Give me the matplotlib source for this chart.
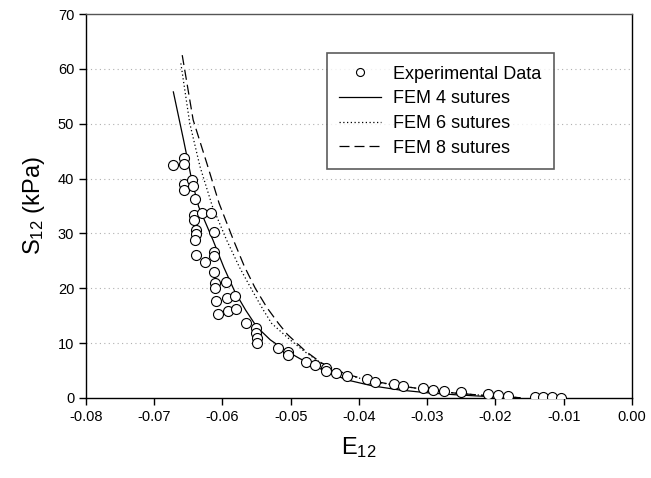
import matplotlib
matplotlib.use("Agg")
import matplotlib.pyplot as plt

plt.rcParams['font.family'] = ['Liberation Sans', 'DejaVu Sans']
plt.rcParams['mathtext.default'] = 'regular'

# experimental data (E12, S12 in kPa)
exp_e = [-0.0673, -0.0657, -0.0657, -0.0656, -0.0656, -0.0644, -0.0643, -0.0641,
         -0.0642, -0.0642, -0.0630, -0.0617, -0.0639, -0.0639, -0.0640, -0.0613,
         -0.0639, -0.0625, -0.0612, -0.0612, -0.0612, -0.0611, -0.0611, -0.0595,
         -0.0610, -0.0594, -0.0582, -0.0606, -0.0592, -0.0580, -0.0565, -0.0551,
         -0.0551, -0.0550, -0.0549, -0.0519, -0.0504, -0.0504, -0.0478, -0.0464,
         -0.0448, -0.0448, -0.0433, -0.0418, -0.0389, -0.0376, -0.0348, -0.0335,
         -0.0306, -0.0291, -0.0276, -0.0251, -0.0211, -0.0196, -0.0182, -0.0142,
         -0.0130, -0.0117, -0.0104]
exp_s = [42.5, 43.7, 42.7, 39.0, 37.9, 39.7, 38.7, 36.2,
         33.4, 32.4, 33.7, 33.8, 30.6, 29.9, 28.8, 30.2,
         26.1, 24.7, 26.7, 25.8, 23.0, 21.0, 20.1, 21.2,
         17.7, 18.2, 18.6, 15.4, 15.9, 16.2, 13.7, 12.7,
         11.8, 10.9, 10.1, 9.2, 8.4, 7.8, 6.6, 6.1,
         5.4, 4.9, 4.5, 4.0, 3.4, 2.9, 2.5, 2.1,
         1.8, 1.5, 1.3, 1.0, 0.7, 0.5, 0.4, 0.1,
         0.1, 0.1, 0.0]

# FEM curves
fem4_e = [-0.0672, -0.0657, -0.0645, -0.0635, -0.0614, -0.0598, -0.0582, -0.0566,
          -0.0550, -0.0530, -0.0508, -0.0487, -0.0460, -0.0418, -0.0380, -0.0340,
          -0.0300, -0.0260, -0.0220, -0.0190, -0.0164]
fem4_s = [55.8, 47.0, 39.7, 34.9, 28.8, 23.8, 19.4, 16.0,
          13.0, 10.6, 8.7, 7.2, 5.5, 3.3, 2.2, 1.45,
          0.95, 0.6, 0.32, 0.18, 0.05]

fem6_e = [-0.0661, -0.0648, -0.0633, -0.0615, -0.0594, -0.0575, -0.0557, -0.0540,
          -0.0528, -0.0510, -0.0499, -0.0479, -0.0455, -0.0418, -0.0380, -0.0345,
          -0.0300, -0.0260, -0.0220, -0.0190, -0.0164]
fem6_s = [61.0, 50.1, 42.2, 35.0, 28.8, 23.8, 19.7, 16.0,
          13.6, 11.6, 10.4, 8.4, 6.3, 4.2, 3.0, 2.3,
          1.5, 0.9, 0.5, 0.25, 0.05]

fem8_e = [-0.0659, -0.0643, -0.0623, -0.0605, -0.0584, -0.0568, -0.0552, -0.0535,
          -0.0518, -0.0505, -0.0479, -0.0455, -0.0418, -0.0380, -0.0345,
          -0.0300, -0.0260, -0.0220, -0.0190, -0.0164]
fem8_s = [62.5, 50.7, 42.8, 35.5, 28.8, 24.0, 20.0, 16.5,
          13.6, 11.6, 8.6, 6.4, 4.3, 3.1, 2.3,
          1.5, 0.9, 0.5, 0.25, 0.05]

x_ticks = [-0.08, -0.07, -0.06, -0.05, -0.04, -0.03, -0.02, -0.01, 0.00]
y_ticks = [0, 10, 20, 30, 40, 50, 60, 70]

fig = plt.figure(figsize=(6.51, 4.78), dpi=100)
ax = fig.add_axes([0.1321, 0.1674, 0.8387, 0.8033])

# horizontal dotted grid
for yv in y_ticks[1:-1]:
    ax.axhline(yv, color='#b0b0b0', lw=0.8, ls=(0, (1, 3)), zorder=0)

ax.plot(exp_e, exp_s, 'o', mfc='white', mec='black', ms=7.2, mew=0.8,
        label='Experimental Data', zorder=3)
ax.plot(fem4_e, fem4_s, '-', color='black', lw=0.9, label='FEM 4 sutures', zorder=2)
ax.plot(fem6_e, fem6_s, color='black', lw=0.9, ls=(0, (1, 2)), label='FEM 6 sutures', zorder=2)
ax.plot(fem8_e, fem8_s, color='black', lw=0.9, ls=(0, (8, 4)), label='FEM 8 sutures', zorder=2)

ax.set_xlim(-0.08, 0.0)
ax.set_ylim(0, 70)
ax.set_xticks(x_ticks)
ax.set_xticklabels(['%.2f' % v for v in x_ticks])
ax.set_yticks(y_ticks)
ax.tick_params(direction='out', length=5, width=1, labelsize=10.5, colors='black',
               top=False, right=False)
ax.tick_params(axis='x', pad=4)

for s in ax.spines.values():
    s.set_linewidth(1)
ax.spines['top'].set_color('#555555')

ax.set_xlabel('E$_{12}$', fontsize=17, labelpad=8)
ax.set_ylabel('S$_{12}$ (kPa)', fontsize=17, labelpad=8)

leg = ax.legend(loc='upper left', bbox_to_anchor=(0.441, 0.898), fontsize=13,
                frameon=True, fancybox=False, handlelength=2.33, handletextpad=0.65,
                labelspacing=0.42, borderpad=0.7, borderaxespad=0, markerscale=0.8)
leg.get_frame().set_edgecolor('#333333')
leg.get_frame().set_linewidth(1.2)

fig.savefig('out.png', dpi=100)
